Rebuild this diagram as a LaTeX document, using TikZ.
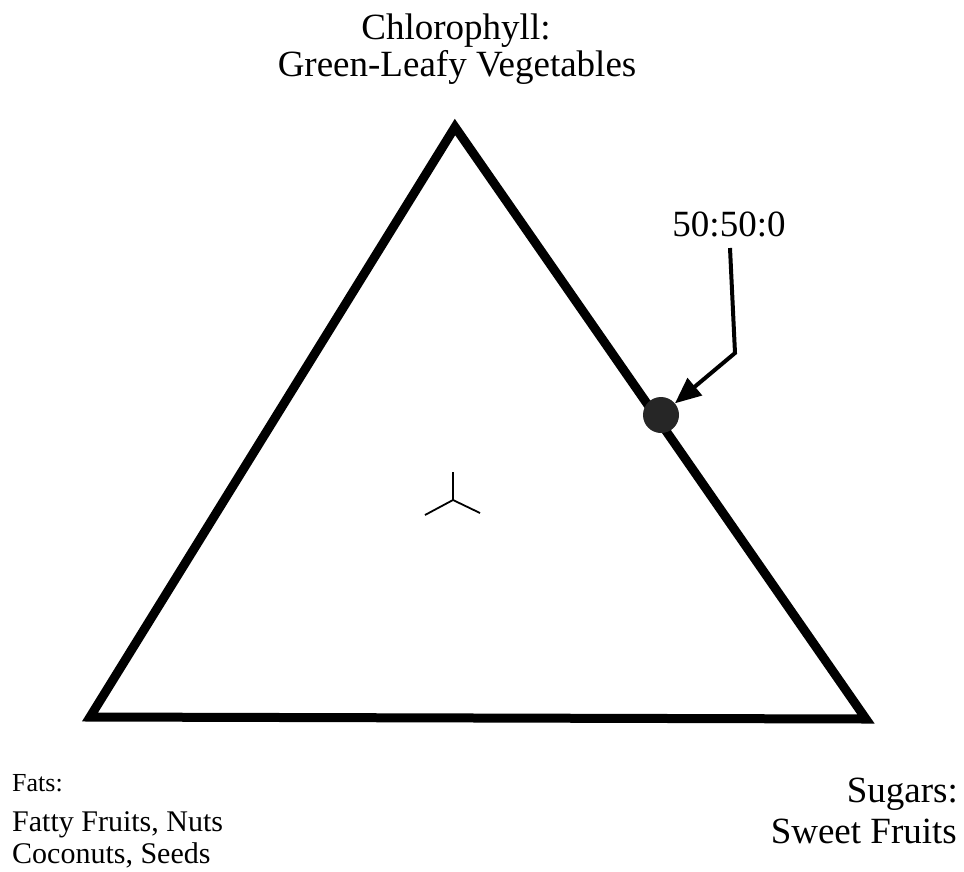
\documentclass[tikz,border=0pt]{standalone}
\usepackage{fontspec}
\setmainfont{Liberation Serif}
\usetikzlibrary{arrows.meta}
\begin{document}
\begin{tikzpicture}[x=1pt,y=-1pt,
  lbl/.style={inner sep=0pt, font=\fontsize{37}{41}\selectfont},
  small/.style={inner sep=0pt, font=\fontsize{30}{32}\selectfont},
  side/.style={line width=9pt, line join=miter},
  pointer/.style={line width=4pt, -{Triangle[length=26pt,width=22pt]}},
  centremark/.style={line width=1.8pt}]
\useasboundingbox (0,0) rectangle (964,871);
\coordinate (A) at (455,127);
\coordinate (B) at (90,717);
\coordinate (C) at (866,719);
\draw[side] (A) -- (B) -- (C) -- cycle;
% centre mark
\coordinate (O) at (453,500);
\coordinate (Ou) at (453,472);
\coordinate (Ol) at (425,515);
\coordinate (Or) at (480,513);
\draw[centremark] (O) -- (Ou) (O) -- (Ol) (O) -- (Or);
% point
\node[circle, fill=black!85, inner sep=0pt, minimum size=36pt] (dot) at (661,415) {};
\coordinate (s) at (730,248);
\coordinate (k) at (735,353);
\draw[pointer] (s) -- (k) -- (dot);
% labels
\node[lbl, anchor=base] (chl) at (456,39) {Chlorophyll:};
\node[lbl, anchor=base] (glv) at (457,76) {Green-Leafy Vegetables};
\node[lbl, anchor=base] (ratio) at (729,236) {50:50:0};
\node[inner sep=0pt, font=\fontsize{26}{30}\selectfont, anchor=base west] (fats) at (12,791) {Fats:};
\node[small, anchor=south west, align=left] (fruits) at (12,868) {Fatty Fruits, Nuts\\Coconuts, Seeds};
\node[lbl, anchor=base east] (sug) at (958,802) {Sugars:};
\node[lbl, anchor=base east] (sf) at (957,843) {Sweet Fruits};
\end{tikzpicture}
\end{document}
